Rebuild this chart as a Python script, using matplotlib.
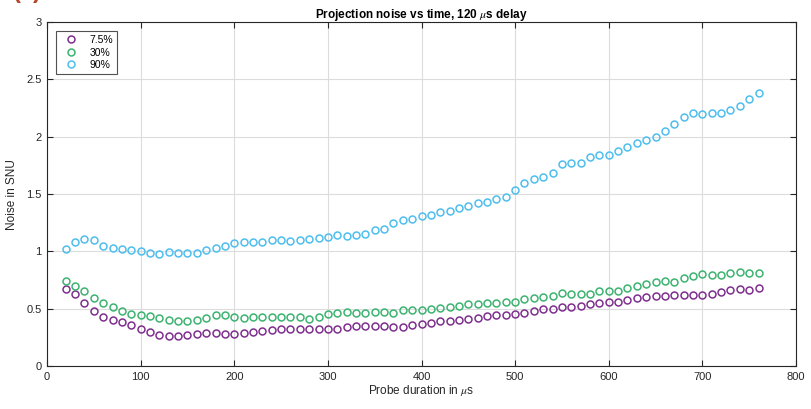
import numpy as np
import matplotlib
matplotlib.use("Agg")
import matplotlib.pyplot as plt

# probe duration in microseconds
duration = list(range(20, 770, 10))

# noise in SNU for the three atom fractions
noise_7p5 = [
    0.670, 0.629, 0.554, 0.484, 0.426, 0.400, 0.380, 0.362, 0.322, 0.296,
    0.275, 0.264, 0.264, 0.275, 0.278, 0.287, 0.287, 0.281, 0.281, 0.284,
    0.293, 0.307, 0.316, 0.322, 0.322, 0.322, 0.319, 0.322, 0.322, 0.325,
    0.339, 0.345, 0.345, 0.348, 0.345, 0.342, 0.342, 0.359, 0.371, 0.374,
    0.394, 0.397, 0.403, 0.412, 0.420, 0.435, 0.443, 0.446, 0.455, 0.467,
    0.484, 0.499, 0.501, 0.513, 0.516, 0.528, 0.539, 0.548, 0.557, 0.562,
    0.574, 0.594, 0.606, 0.609, 0.612, 0.623, 0.620, 0.617, 0.620, 0.629,
    0.643, 0.664, 0.670, 0.667, 0.684,
]
noise_30 = [
    0.742, 0.699, 0.655, 0.591, 0.554, 0.513, 0.481, 0.452, 0.443, 0.438,
    0.420, 0.400, 0.391, 0.391, 0.403, 0.420, 0.441, 0.443, 0.429, 0.423,
    0.432, 0.432, 0.432, 0.429, 0.432, 0.429, 0.414, 0.426, 0.458, 0.467,
    0.470, 0.467, 0.467, 0.470, 0.475, 0.467, 0.487, 0.493, 0.487, 0.496,
    0.510, 0.513, 0.525, 0.539, 0.545, 0.548, 0.554, 0.557, 0.559, 0.583,
    0.597, 0.600, 0.609, 0.635, 0.632, 0.626, 0.632, 0.655, 0.658, 0.658,
    0.681, 0.701, 0.716, 0.736, 0.745, 0.736, 0.768, 0.788, 0.800, 0.797,
    0.794, 0.812, 0.823, 0.809, 0.814,
]
noise_90 = [
    1.020, 1.081, 1.110, 1.099, 1.049, 1.029, 1.017, 1.014, 1.003, 0.986,
    0.977, 0.991, 0.986, 0.986, 0.986, 1.012, 1.026, 1.046, 1.075, 1.084,
    1.081, 1.084, 1.096, 1.099, 1.090, 1.099, 1.107, 1.113, 1.125, 1.139,
    1.133, 1.139, 1.148, 1.188, 1.194, 1.249, 1.275, 1.281, 1.305, 1.320,
    1.342, 1.351, 1.379, 1.392, 1.421, 1.434, 1.454, 1.478, 1.533, 1.595,
    1.634, 1.652, 1.681, 1.765, 1.771, 1.774, 1.821, 1.844, 1.844, 1.876,
    1.914, 1.946, 1.972, 2.001, 2.051, 2.112, 2.171, 2.211, 2.200, 2.203,
    2.203, 2.229, 2.267, 2.325, 2.378,
]

series = [
    ("7.5%", noise_7p5, "#7e2f8e"),
    ("30%", noise_30, "#3cb371"),
    ("90%", noise_90, "#4dbeee"),
]

plt.rcParams["font.family"] = ["Liberation Sans", "DejaVu Sans"]
plt.rcParams["mathtext.fontset"] = "stix"

fig = plt.figure(figsize=(8.11, 4.09), dpi=100)
ax = fig.add_axes([0.058, 0.105, 0.9235, 0.841])

for label, values, color in series:
    ax.plot(duration, values, linestyle="none", marker="o", markersize=5.0,
            markerfacecolor="none", markeredgecolor=color, markeredgewidth=1.1,
            label=label)

ax.set_xlim(0, 800)
ax.set_ylim(0, 3)
ax.set_xticks(np.arange(0, 801, 100))
ax.set_yticks([0, 0.5, 1, 1.5, 2, 2.5, 3])
ax.set_yticklabels(["0", "0.5", "1", "1.5", "2", "2.5", "3"])
ax.grid(True, color="#dcdcdc", linewidth=0.8)
ax.set_axisbelow(True)
ax.tick_params(direction="in", length=4, width=0.8, labelsize=8,
               colors="#262626", top=True, right=True, pad=4)
for sp in ax.spines.values():
    sp.set_color("#262626")
    sp.set_linewidth(0.8)

ax.set_xlabel(r"Probe duration in $\mu$s", fontsize=8.5, color="#262626", labelpad=1)
ax.set_ylabel("Noise in SNU", fontsize=8.5, color="#262626", labelpad=6)
ax.set_title(r"Projection noise vs time, 120 $\mu$s delay", fontsize=8.5,
             fontweight="bold", pad=3)

leg = ax.legend(loc="upper left", fontsize=7.5, frameon=True, fancybox=False,
                edgecolor="#262626", borderpad=0.4, labelspacing=0.25,
                handletextpad=0.8, bbox_to_anchor=(0.005, 0.99))
leg.get_frame().set_linewidth(0.8)

# panel tag, partly above the top edge of the canvas
fig.text(0.016, 1.022, "(c)", fontsize=17, color="#b5472a", fontweight="bold",
         va="center", ha="left")

fig.savefig("out.png", dpi=100)
